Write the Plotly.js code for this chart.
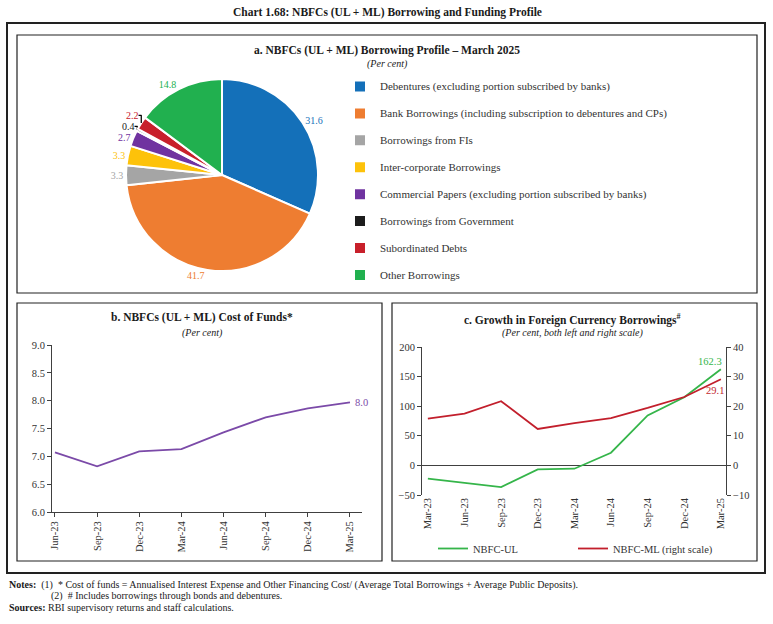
<!DOCTYPE html>
<html>
<head>
<meta charset="utf-8">
<script src="https://cdn.plot.ly/plotly-3.0.1.min.js"></script>
<style>
    html, body { margin: 0; padding: 0; background: #fff; }
    #chart { width: 773px; height: 624px; }
</style>
</head>
<body>
<div id="chart"></div>
<script>
// a. borrowing profile, March 2025 (per cent)
const pieLabels = [
    'Debentures (excluding portion subscribed by banks)',
    'Bank Borrowings (including subscription to debentures and CPs)',
    'Borrowings from FIs',
    'Inter-corporate Borrowings',
    'Commercial Papers (excluding portion subscribed by banks)',
    'Borrowings from Government',
    'Subordinated Debts',
    'Other Borrowings'
];
const pieValues = [31.6, 41.7, 3.3, 3.3, 2.7, 0.4, 2.2, 14.8];

// b. cost of funds (per cent)
const costQuarters = ['Jun-23', 'Sep-23', 'Dec-23', 'Mar-24', 'Jun-24', 'Sep-24', 'Dec-24', 'Mar-25'];
const costValues = [7.07, 6.82, 7.09, 7.13, 7.43, 7.70, 7.86, 7.97];

// c. growth in foreign currency borrowings (per cent)
const fcbQuarters = ['Mar-23', 'Jun-23', 'Sep-23', 'Dec-23', 'Mar-24', 'Jun-24', 'Sep-24', 'Dec-24', 'Mar-25'];
const ulGrowth = [-22.5, -29.0, -36.6, -6.8, -5.6, 21.4, 84.5, 115.0, 162.3];
const mlGrowth = [15.8, 17.5, 21.7, 12.3, 14.3, 16.0, 19.4, 23.1, 29.1];

const pieColors = ['#1470b9', '#ee7d31', '#a5a5a5', '#fdc20a', '#7033a0', '#1c1c1c', '#c8202b', '#21b04f'];
const costColor = '#7b4aa8';
const ulColor = '#35b54a';
const mlColor = '#c21f2c';

const FONT = 'Liberation Serif';
const W = 773, H = 624;

// pixel helpers for page layout
const px = function(x) { return x / W; };
const py = function(y) { return 1 - y / H; };

function label(text, x, y, opts) {
    opts = opts || {};
    return {
        xref: 'paper', yref: 'paper',
        x: px(x), y: py(y),
        xanchor: opts.xanchor || 'center', yanchor: 'middle',
        text: text, showarrow: false,
        font: {
            family: FONT,
            size: opts.size || 11,
            color: opts.color || '#1a1a1a',
            weight: opts.weight || 'normal',
            style: opts.style || 'normal'
        }
    };
}

function box(x0, y0, x1, y1, w) {
    return {
        type: 'rect', xref: 'paper', yref: 'paper',
        x0: px(x0), x1: px(x1), y0: py(y1), y1: py(y0),
        line: { color: '#222', width: w }, fillcolor: 'rgba(0,0,0,0)'
    };
}

const axisFont = { family: FONT, size: 10.5, color: '#333' };
const lineCol = '#404040';

// legend rows are spaced by a blank second line; the span keeps the text itself larger
const legendText = function(l) {
    return '<span style="font-size:11px">' + l + '</span><br>&nbsp;';
};

let data = [{
    type: 'pie',
    labels: pieLabels.map(legendText),
    values: pieValues,
    sort: false,
    direction: 'clockwise',
    rotation: 0,
    domain: { x: [px(126), px(318)], y: [py(271), py(79)] },
    marker: { colors: pieColors, line: { color: '#fff', width: 2 } },
    textposition: 'outside',
    texttemplate: '%{value:.1f}',
    textfont: { family: FONT, size: 10, color: pieColors },
    legend: 'legend',
    hoverinfo: 'value'
}, {
    type: 'scatter', mode: 'lines',
    x: costQuarters, y: costValues,
    xaxis: 'x', yaxis: 'y',
    line: { color: costColor, width: 1.8 },
    showlegend: false
}, {
    type: 'scatter', mode: 'lines',
    name: 'NBFC-UL',
    x: fcbQuarters, y: ulGrowth,
    xaxis: 'x2', yaxis: 'y2',
    line: { color: ulColor, width: 1.8 },
    legend: 'legend2'
}, {
    type: 'scatter', mode: 'lines',
    name: 'NBFC-ML (right scale)',
    x: fcbQuarters, y: mlGrowth,
    xaxis: 'x2', yaxis: 'y3',
    line: { color: mlColor, width: 1.8 },
    legend: 'legend2'
}];

let annotations = [
    label('Chart 1.68: NBFCs (UL + ML) Borrowing and Funding Profile', 387, 12, { size: 11.5, weight: 'bold' }),
    label('a. NBFCs (UL + ML) Borrowing Profile – March 2025', 387, 50, { size: 11.5, weight: 'bold' }),
    label('(Per cent)', 387, 64, { size: 10, style: 'italic' }),
    label('b. NBFCs (UL + ML) Cost of Funds*', 202, 317, { size: 11.5, weight: 'bold' }),
    label('(Per cent)', 202, 333, { size: 10, style: 'italic' }),
    label('c. Growth in Foreign Currency Borrowings<sup>#</sup>', 572, 319, { size: 11.5, weight: 'bold' }),
    label('(Per cent, both left and right scale)', 572, 333, { size: 10, style: 'italic' }),
    label('<b>Notes:</b>  (1)  * Cost of funds = Annualised Interest Expense and Other Financing Cost/ (Average Total Borrowings + Average Public Deposits).', 7, 585, { size: 10, xanchor: 'left' }),
    label('(2)  # Includes borrowings through bonds and debentures.', 49, 596, { size: 10, xanchor: 'left' }),
    label('<b>Sources:</b> RBI supervisory returns and staff calculations.', 7, 607, { size: 10, xanchor: 'left' })
];

// end-point value labels
let lastCost = costValues.length - 1;
annotations.push({
    xref: 'x', yref: 'y', x: costQuarters[lastCost], y: costValues[lastCost],
    text: costValues[lastCost].toFixed(1), showarrow: false,
    xanchor: 'left', xshift: 3,
    font: { family: FONT, size: 10.5, color: costColor }
});
let lastFcb = fcbQuarters.length - 1;
annotations.push({
    xref: 'x2', yref: 'y2', x: fcbQuarters[lastFcb], y: ulGrowth[lastFcb],
    text: ulGrowth[lastFcb].toFixed(1), showarrow: false,
    xanchor: 'right', yanchor: 'bottom', xshift: 3,
    font: { family: FONT, size: 10.5, color: ulColor }
});
annotations.push({
    xref: 'x2', yref: 'y3', x: fcbQuarters[lastFcb], y: mlGrowth[lastFcb],
    text: mlGrowth[lastFcb].toFixed(1), showarrow: false,
    xanchor: 'right', yanchor: 'top', xshift: 5, yshift: -4,
    font: { family: FONT, size: 10.5, color: mlColor }
});

let layout = {
    width: W, height: H,
    margin: { l: 0, r: 0, t: 0, b: 0 },
    paper_bgcolor: '#fff', plot_bgcolor: 'rgba(0,0,0,0)',
    font: { family: FONT, size: 10.5, color: '#333' },
    showlegend: true,
    legend: {
        x: px(340), y: py(74), xanchor: 'left', yanchor: 'top',
        font: { family: FONT, size: 9.2, color: '#333' },
        valign: 'top', traceorder: 'normal', bgcolor: 'rgba(0,0,0,0)'
    },
    legend2: {
        orientation: 'h',
        x: px(433), y: py(534), xanchor: 'left', yanchor: 'top',
        entrywidth: 95,
        font: { family: FONT, size: 10.5, color: '#333' },
        bgcolor: 'rgba(0,0,0,0)'
    },
    xaxis: {
        domain: [px(52), px(362)], anchor: 'y',
        type: 'category', range: [-0.07, 7.285],
        tickangle: -90, ticks: 'outside', ticklen: 4, tickcolor: lineCol,
        showline: true, linecolor: lineCol, linewidth: 1,
        showgrid: false, zeroline: false, tickfont: axisFont
    },
    yaxis: {
        domain: [py(512), py(345)], anchor: 'x',
        range: [6, 9], dtick: 0.5, tickformat: '.1f',
        ticks: 'outside', ticklen: 4, tickcolor: lineCol,
        showline: true, linecolor: lineCol, linewidth: 1,
        showgrid: false, zeroline: false, tickfont: axisFont
    },
    xaxis2: {
        domain: [px(422), px(726)], anchor: 'y2',
        type: 'category', range: [-0.16, 8.14],
        tickangle: -90, ticks: '',
        showline: false, showgrid: false, zeroline: false, tickfont: axisFont
    },
    yaxis2: {
        domain: [py(495), py(347)], anchor: 'x2',
        range: [-50, 200], dtick: 50,
        ticks: 'outside', ticklen: 4, tickcolor: lineCol,
        showline: true, linecolor: lineCol, linewidth: 1,
        showgrid: false, zeroline: true, zerolinecolor: lineCol, zerolinewidth: 1,
        tickfont: axisFont
    },
    yaxis3: {
        overlaying: 'y2', side: 'right', anchor: 'x2',
        range: [-10, 40], dtick: 10,
        ticks: 'outside', ticklen: 4, tickcolor: lineCol,
        showline: true, linecolor: lineCol, linewidth: 1,
        showgrid: false, zeroline: false, tickfont: axisFont
    },
    shapes: [
        box(7, 23, 765, 573, 2),
        box(17, 35, 757, 293, 1.2),
        box(17, 303, 382, 561, 1.2),
        box(392, 303, 757, 561, 1.2)
    ],
    annotations: annotations
};

Plotly.newPlot('chart', data, layout, { displayModeBar: false, staticPlot: true });
</script>
</body>
</html>
